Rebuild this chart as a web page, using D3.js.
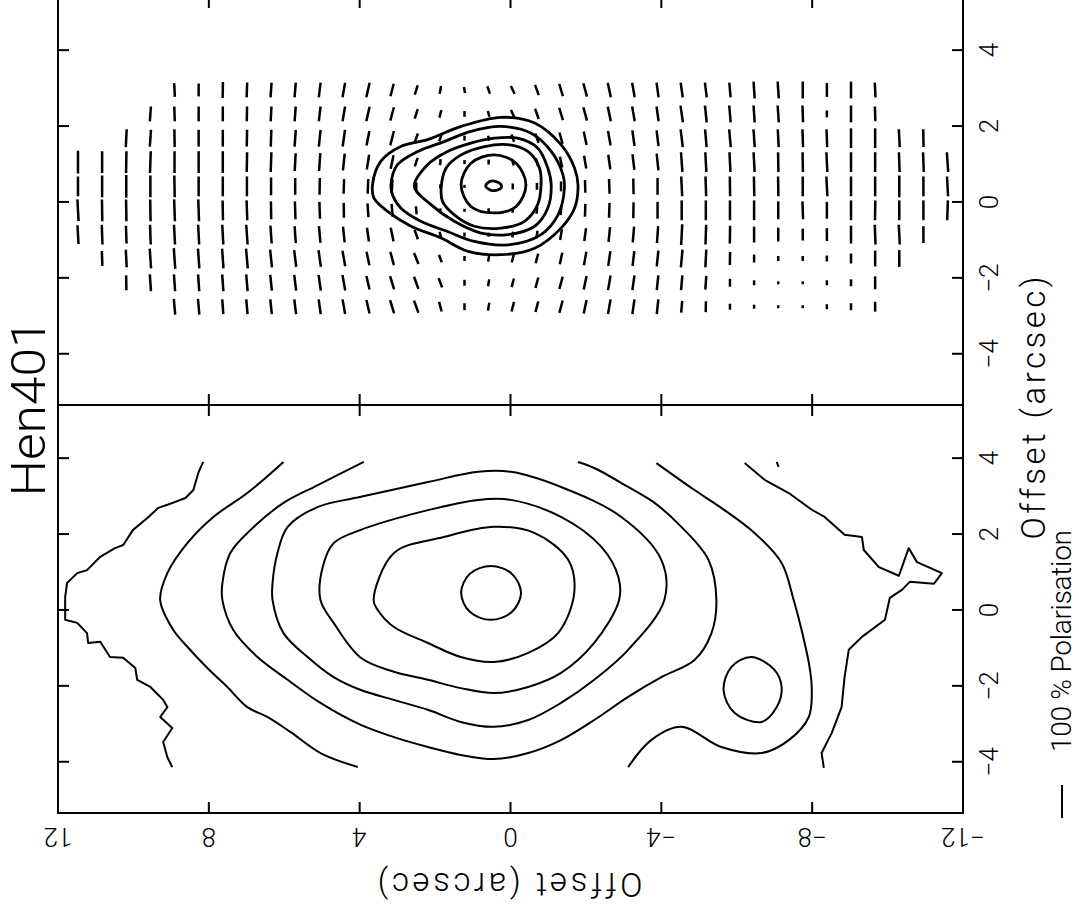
<!DOCTYPE html>
<html>
<head>
<meta charset="utf-8">
<script src="https://cdn.jsdelivr.net/npm/d3@7"></script>
<style>
  body { margin: 0; background: #fff; }
  text { font-family: "Roboto", "Liberation Sans", Arial, sans-serif; font-weight: 300; fill: #000; }
</style>
</head>
<body>
<svg id="chart" width="1079" height="909"></svg>
<script>
// ---- labels ----
const titleText = "Hen401";
const axisTitle = "Offset  (arcsec)";
const legendText = "100 % Polarisation";
const legendPol = 100;

// ---- ticks ----
const decTicks = [12, 8, 4, 0, -4, -8, -12];
const decTickLabels = ["12", "8", "4", "0", "\u22124", "\u22128", "\u221212"];
const raTicks = [4, 2, 0, -2, -4];
const raTickLabels = ["4", "2", "0", "\u22122", "\u22124"];

// ---- polarisation map grid (arcsec) ----
const gridDec = [11.47, 10.83, 10.19, 9.55, 8.91, 8.27, 7.63, 6.99, 6.35, 5.71, 5.06, 4.42, 3.78,
  3.14, 2.50, 1.86, 1.22, 0.58, -0.06, -0.70, -1.34, -1.98, -2.62, -3.26, -3.90, -4.54, -5.18,
  -5.82, -6.46, -7.10, -7.75, -8.39, -9.03, -9.67, -10.31, -10.95, -11.59];
const gridRa = [2.95, 2.32, 1.68, 1.05, 0.41, -0.22, -0.86, -1.49, -2.13, -2.76];

// first row with a vector in each column
const vecStart = [3, 3, 2, 1, 0, 0, 0, 0, 0, 0, 0, 0, 0, 0, 0, 0, 0, 0, 0, 0, 0, 0, 0, 0, 0, 0, 0,
  0, 0, 0, 0, 0, 0, 0, 2, 2, 3];
// vector tilt (deg, + leans right at the top of the page)
const vecAngle = [
  [0, 0, -3, -3],
  [0, 0, -1, -2, -2],
  [3, 1, 0, -1, -2, -3, -1],
  [4, 4, 2, 0, -1, -2, -4, -4],
  [-3, -2, -1, 0, -1, -2, -3, -4, -4, -5],
  [0, 0, 0, 0, 0, -2, -3, -4, -4, -5],
  [1, 0, 0, 0, 0, -1, -3, -4, -4, -4],
  [2, 1, 1, 1, 0, -2, -4, -5, -5, -5],
  [4, 3, 2, 2, 0, -1, -4, -6, -6, -6],
  [5, 4, 4, 3, 0, -2, -4, -7, -7, -7],
  [7, 7, 6, 4, 1, -2, -5, -8, -8, -8],
  [10, 10, 8, 6, 2, -1, -6, -10, -10, -10],
  [13, 13, 11, 9, 2, -4, -8, -12, -13, -13],
  [15, 15, 14, 12, 3, -5, -12, -15, -17, -17],
  [17, 18, 20, 18, 0, -5, -20, -22, -20, -20],
  [10, 15, 20, 5, 0, 0, -15, -20, -20, -15],
  [-10, 0, 0, 0, 0, 0, 0, 0, 0, 0],
  [-20, -15, -10, 0, 0, 0, 5, 10, 10, 10],
  [-25, -25, -20, -15, 0, 5, 10, 15, 15, 15],
  [-20, -20, -20, -15, 0, 5, 10, 15, 15, 15],
  [-17, -17, -15, -12, 0, 5, 10, 12, 15, 15],
  [-15, -15, -12, -10, -2, 2, 8, 10, 12, 12],
  [-12, -12, -10, -8, -2, 2, 6, 8, 10, 10],
  [-10, -10, -8, -7, -1, 1, 5, 7, 8, 8],
  [-8, -8, -7, -6, 0, 0, 4, 6, 6, 6],
  [-8, -8, -7, -4, -3, 0, 3, 5, 5, 5],
  [-7, -6, -5, -3, -2, 0, 2, 3, 4, 1],
  [-5, -5, -5, -3, -1, 0, 1, 1, 0, 0],
  [-4, -4, -4, -3, -1, 0, 0, 0, 0, 0],
  [-4, -4, -3, -1, -1, 0, 0, 0, 0, 0],
  [0, -2, -2, -1, 0, -2, 0, 0, 0, 0],
  [0, 0, -2, -3, -3, 0, 0, 0, 0, 0],
  [0, 0, 0, 0, 0, 0, 0, 0, 0, 0],
  [-3, -2, 0, 0, 0, 1, -2, 0, 0, 0],
  [-3, -2, 0, 0, -3, 0],
  [-1, -2, 0, 0, 0],
  [-4, -3, 2]
];
// degree of polarisation (%)
const vecPol = [
  [69, 60, 66, 57],
  [66, 66, 66, 60, 45],
  [54, 66, 69, 66, 54, 54, 45],
  [45, 51, 66, 66, 66, 60, 60, 51],
  [42, 45, 54, 66, 66, 66, 60, 63, 51, 48],
  [39, 45, 51, 66, 60, 66, 60, 60, 51, 48],
  [48, 45, 51, 66, 60, 60, 60, 60, 51, 45],
  [45, 45, 51, 60, 60, 60, 60, 60, 51, 45],
  [45, 45, 51, 60, 54, 54, 54, 54, 48, 45],
  [45, 45, 51, 54, 51, 54, 51, 51, 48, 45],
  [45, 45, 51, 54, 51, 51, 51, 51, 48, 45],
  [45, 45, 51, 51, 45, 45, 48, 48, 48, 45],
  [45, 45, 45, 45, 45, 42, 42, 42, 42, 42],
  [39, 42, 45, 42, 42, 39, 42, 42, 42, 42],
  [30, 30, 30, 27, 24, 24, 30, 36, 39, 39],
  [24, 24, 21, 18, 12, 12, 18, 24, 30, 30],
  [18, 18, 15, 12, 9, 9, 12, 15, 18, 21],
  [24, 18, 15, 15, 0, 12, 12, 18, 21, 24],
  [27, 27, 24, 21, 18, 15, 18, 24, 27, 30],
  [33, 33, 30, 24, 21, 21, 24, 30, 33, 33],
  [39, 39, 36, 33, 30, 30, 33, 36, 39, 39],
  [42, 42, 42, 39, 39, 39, 39, 42, 42, 42],
  [45, 45, 45, 45, 45, 45, 45, 45, 45, 45],
  [45, 45, 48, 48, 48, 48, 48, 45, 45, 45],
  [45, 45, 48, 51, 51, 51, 51, 48, 45, 45],
  [45, 51, 54, 60, 60, 60, 63, 54, 45, 36],
  [45, 51, 54, 60, 60, 60, 60, 54, 42, 33],
  [45, 51, 54, 60, 60, 60, 54, 39, 24, 18],
  [51, 51, 54, 60, 60, 60, 48, 24, 15, 12],
  [51, 51, 54, 60, 60, 54, 42, 15, 9, 9],
  [51, 51, 54, 60, 60, 54, 36, 15, 9, 9],
  [42, 21, 54, 60, 60, 51, 39, 18, 15, 15],
  [51, 51, 60, 60, 60, 60, 54, 30, 21, 21],
  [45, 45, 60, 60, 60, 60, 60, 48, 39, 30],
  [54, 60, 66, 60, 60, 51],
  [54, 60, 60, 60, 51],
  [60, 60, 60]
];

// ---- intensity contours over the polarisation map [dec, ra] ----
const polC5 = [[3.66,0.45],[3.44,1.07],[2.91,1.46],[2.20,1.64],[1.31,1.99],[0.25,2.23],[-0.64,2.08],[-1.34,1.51],[-1.70,0.89],[-1.79,0.45],[-1.70,-0.16],[-1.34,-0.69],[-0.64,-1.22],[0.25,-1.39],[1.13,-1.30],[1.84,-0.95],[2.64,-0.64],[3.26,-0.25],[3.62,0.10]];
const polC4 = [[3.17,0.45],[3.00,0.98],[2.46,1.33],[1.76,1.59],[1.05,1.86],[0.25,1.99],[-0.55,1.81],[-1.08,1.33],[-1.39,0.72],[-1.43,0.36],[-1.26,-0.34],[-0.81,-0.86],[0.07,-1.13],[0.96,-1.04],[1.67,-0.78],[2.38,-0.51],[2.91,-0.16],[3.13,0.19]];
const polC3 = [[2.55,0.41],[2.20,0.98],[1.67,1.33],[1.05,1.55],[0.43,1.68],[-0.19,1.68],[-0.72,1.42],[-0.99,0.89],[-1.08,0.45],[-0.99,-0.16],[-0.64,-0.64],[0.07,-0.86],[0.78,-0.82],[1.49,-0.51],[2.11,-0.07]];
const polC2 = [[1.84,0.36],[1.71,0.89],[1.31,1.24],[0.69,1.46],[0.07,1.51],[-0.46,1.33],[-0.77,0.89],[-0.81,0.45],[-0.72,-0.07],[-0.37,-0.51],[0.25,-0.69],[0.96,-0.64],[1.49,-0.34],[1.80,0.01]];
const polC1 = [[1.31,0.45],[1.05,1.02],[0.43,1.24],[-0.15,1.02],[-0.41,0.45],[-0.15,-0.12],[0.43,-0.29],[1.05,-0.12]];
const polPeak = [[0.66,0.42],[0.52,0.55],[0.27,0.48],[0.25,0.37],[0.50,0.30]];

// ---- intensity map contours [dec, ra] ----
const intC1 = [[1.31,0.45],[1.08,0.95],[0.52,1.16],[-0.04,0.95],[-0.28,0.45],[-0.04,-0.05],[0.52,-0.26],[1.08,-0.05]];
const intC2 = [[3.63,0.26],[3.09,1.50],[1.77,1.92],[0.44,2.19],[-0.63,2.03],[-1.53,1.32],[-1.69,0.45],[-1.26,-0.61],[-0.47,-1.13],[0.44,-1.37],[1.32,-1.24],[2.19,-0.87],[3.09,-0.45],[3.52,0.00]];
const intC3 = [[5.04,0.26],[4.98,1.13],[4.69,1.76],[3.97,2.11],[2.19,2.63],[0.86,2.90],[-0.01,2.90],[-1.34,2.45],[-2.41,1.66],[-2.86,0.87],[-2.88,0.26],[-2.22,-0.87],[-1.34,-1.66],[-0.47,-2.03],[0.44,-2.19],[1.32,-2.06],[2.19,-1.84],[3.09,-1.63],[3.97,-1.26],[4.69,-0.34]];
const intC4 = [[6.31,0.26],[6.31,0.71],[6.18,1.50],[5.91,2.19],[5.12,2.71],[3.97,2.98],[2.19,3.37],[0.86,3.64],[-0.01,3.64],[-1.34,3.24],[-2.94,2.45],[-4.00,1.32],[-4.08,0.26],[-3.12,-1.05],[-2.22,-1.84],[-1.34,-2.45],[-0.47,-2.90],[0.44,-3.08],[1.32,-2.95],[2.19,-2.63],[3.09,-2.37],[3.97,-2.11],[4.69,-1.77],[5.38,-1.24],[6.02,-0.61]];
const intC5 = [[3.89,3.90],[5.11,3.29],[6.02,2.82],[6.89,2.11],[7.43,1.50],[7.64,0.71],[7.64,0.26],[7.35,-0.53],[6.71,-1.24],[5.91,-1.84],[5.04,-2.45],[3.97,-3.03],[3.09,-3.35],[2.19,-3.61],[1.32,-3.82],[0.44,-3.93],[-0.47,-3.77],[-1.34,-3.43],[-2.22,-2.90],[-3.12,-2.29],[-4.00,-1.77],[-4.88,-1.32],[-5.33,-0.61],[-5.46,0.26],[-5.25,1.32],[-4.53,2.19],[-3.82,2.82],[-3.12,3.24],[-2.22,3.74],[-1.79,3.90]];
const intC6a = [[6.02,3.90],[6.98,3.08],[7.88,2.45],[8.57,1.76],[9.10,0.97],[9.29,0.26],[8.94,-0.53],[8.57,-0.97],[8.04,-1.53],[7.51,-2.03],[6.98,-2.56],[6.45,-2.82],[5.83,-3.22],[5.04,-3.77],[4.05,-4.14]];
const intC6b = [[-3.12,-4.14],[-3.73,-3.43],[-4.53,-3.08],[-5.59,-3.61],[-6.66,-3.77],[-7.38,-3.43],[-7.91,-2.82],[-7.99,-2.11],[-7.93,-1.50],[-7.72,-0.53],[-7.51,0.26],[-7.19,1.24],[-6.47,2.03],[-5.59,2.69],[-4.88,3.16],[-3.87,3.87]];
const intPeak2 = [[-5.65,-2.11],[-5.86,-1.50],[-6.39,-1.24],[-7.00,-1.58],[-7.19,-2.03],[-7.06,-2.56],[-6.66,-2.95],[-5.94,-2.71]];
const intC7a = [[8.15,3.90],[8.28,3.61],[8.41,3.16],[8.62,2.95],[9.10,2.77],[9.34,2.69],[9.63,2.42],[10.01,2.11],[10.27,1.71],[10.49,1.63],[10.88,1.40],[11.23,1.05],[11.49,0.97],[11.76,0.71],[11.81,0.34],[11.81,-0.26],[11.49,-0.34],[11.23,-0.61],[11.20,-0.87],[10.88,-0.84],[10.62,-1.24],[10.27,-1.26],[9.95,-1.53],[9.90,-1.84],[9.55,-2.03],[9.21,-2.37],[9.10,-2.56],[9.29,-2.82],[8.97,-3.11],[9.21,-3.48],[9.10,-3.88],[8.97,-4.14]];
const intC7b = [[-6.21,3.87],[-6.74,3.43],[-7.38,3.08],[-7.99,2.64],[-8.33,2.45],[-8.86,1.98],[-9.32,1.92],[-9.37,1.58],[-9.77,1.13],[-10.30,0.90],[-10.56,1.63],[-10.78,1.26],[-11.44,0.97],[-11.23,0.69],[-10.59,0.74],[-10.38,0.53],[-10.06,0.32],[-9.93,-0.26],[-9.32,-0.71],[-8.97,-1.05],[-8.86,-1.77],[-8.78,-2.56],[-8.52,-3.24],[-8.25,-3.77],[-8.31,-4.16]];
const intStub = [[-7.06,3.90],[-7.11,3.77]];

// ---- scales ----
const svg = d3.select("#chart");
const x = d3.scaleLinear().domain([12, -12]).range([58, 963]);
const yPol = d3.scaleLinear().domain([-5.35, 5.4]).range([405, -3]);
const yInt = d3.scaleLinear().domain([-5.35, 5.4]).range([813, 405]);
const polLen = d3.scaleLinear().domain([0, 100]).range([0, 33]);
const tickLen = 11;

// ---- frame ----
svg.append("rect")
  .attr("x", x(12)).attr("y", yPol(5.4))
  .attr("width", x(-12) - x(12)).attr("height", yInt(-5.35) - yPol(5.4))
  .attr("fill", "none").attr("stroke", "#000").attr("stroke-width", 2);
svg.append("line")
  .attr("x1", x(12)).attr("x2", x(-12))
  .attr("y1", yInt(5.4)).attr("y2", yInt(5.4))
  .attr("stroke", "#000").attr("stroke-width", 2);

const innerDec = decTicks.slice(1, -1);
const ticks = svg.append("g").attr("stroke", "#000").attr("stroke-width", 2);
// top / bottom / divider ticks
innerDec.forEach(d => {
  ticks.append("line").attr("x1", x(d)).attr("x2", x(d))
    .attr("y1", yPol(5.4)).attr("y2", yPol(5.4) + tickLen);
  ticks.append("line").attr("x1", x(d)).attr("x2", x(d))
    .attr("y1", yInt(-5.35)).attr("y2", yInt(-5.35) - tickLen);
  ticks.append("line").attr("x1", x(d)).attr("x2", x(d))
    .attr("y1", yInt(5.4) - tickLen).attr("y2", yInt(5.4) + tickLen);
});
// side ticks of both panels
[yPol, yInt].forEach(y => {
  raTicks.forEach(r => {
    ticks.append("line").attr("x1", x(12)).attr("x2", x(12) + tickLen)
      .attr("y1", y(r)).attr("y2", y(r));
    ticks.append("line").attr("x1", x(-12)).attr("x2", x(-12) - tickLen)
      .attr("y1", y(r)).attr("y2", y(r));
  });
});

// ---- tick labels ----
svg.append("g").selectAll("text").data(decTicks).join("text")
  .attr("transform", d => `translate(${x(d)},828) rotate(180)`)
  .attr("text-anchor", "middle")
  .style("font-size", "26px")
  .text((d, i) => decTickLabels[i]);

[yPol, yInt].forEach(y => {
  svg.append("g").selectAll("text").data(raTicks).join("text")
    .attr("transform", d => `translate(998,${y(d)}) rotate(-90)`)
    .attr("text-anchor", "middle")
    .style("font-size", "26px")
    .text((d, i) => raTickLabels[i]);
});

// ---- titles ----
svg.append("text")
  .attr("transform", "translate(45,408) rotate(-90)")
  .attr("text-anchor", "middle")
  .attr("textLength", 177).attr("lengthAdjust", "spacingAndGlyphs")
  .style("font-size", "49px")
  .text(titleText);

svg.append("text")
  .attr("transform", "translate(510,873) rotate(180)")
  .attr("text-anchor", "middle")
  .attr("textLength", 265).attr("lengthAdjust", "spacing")
  .style("font-size", "33px")
  .text(axisTitle);

svg.append("text")
  .attr("transform", "translate(1045,408) rotate(-90)")
  .attr("text-anchor", "middle")
  .attr("textLength", 263).attr("lengthAdjust", "spacing")
  .style("font-size", "33px")
  .text(axisTitle);

// legend: 100 % bar + text
svg.append("line")
  .attr("x1", 1062).attr("x2", 1062)
  .attr("y1", 818).attr("y2", 818 - polLen(legendPol))
  .attr("stroke", "#000").attr("stroke-width", 2);
svg.append("text")
  .attr("transform", "translate(1071,752) rotate(-90)")
  .attr("text-anchor", "start")
  .attr("textLength", 222).attr("lengthAdjust", "spacing")
  .style("font-size", "28px")
  .text(legendText);

// ---- polarisation vectors ----
const vecs = [];
gridDec.forEach((u, i) => {
  vecAngle[i].forEach((a, j) => {
    vecs.push({ u: u, v: gridRa[vecStart[i] + j], a: a, p: vecPol[i][j] });
  });
});
const rad = Math.PI / 180;
svg.append("g").selectAll("line").data(vecs.filter(d => d.p > 0)).join("line")
  .attr("x1", d => x(d.u) + polLen(d.p) / 2 * Math.sin(d.a * rad))
  .attr("y1", d => yPol(d.v) - polLen(d.p) / 2 * Math.cos(d.a * rad))
  .attr("x2", d => x(d.u) - polLen(d.p) / 2 * Math.sin(d.a * rad))
  .attr("y2", d => yPol(d.v) + polLen(d.p) / 2 * Math.cos(d.a * rad))
  .attr("stroke", "#000").attr("stroke-width", 2.5);

// ---- contours ----
function drawContours(list, y, curve, width) {
  const line = d3.line().x(d => x(d[0])).y(d => y(d[1])).curve(curve);
  svg.append("g").selectAll("path").data(list).join("path")
    .attr("d", line)
    .attr("fill", "none").attr("stroke", "#000")
    .attr("stroke-width", width).attr("stroke-linejoin", "round");
}
drawContours([polC5, polC4, polC3, polC2, polC1, polPeak], yPol, d3.curveCatmullRomClosed, 2.8);
drawContours([intC1, intC2, intC3, intC4, intPeak2], yInt, d3.curveCatmullRomClosed, 2);
drawContours([intC5, intC6a, intC6b, intStub], yInt, d3.curveCatmullRom, 2);
drawContours([intC7a, intC7b], yInt, d3.curveLinear, 2);
</script>
</body>
</html>
